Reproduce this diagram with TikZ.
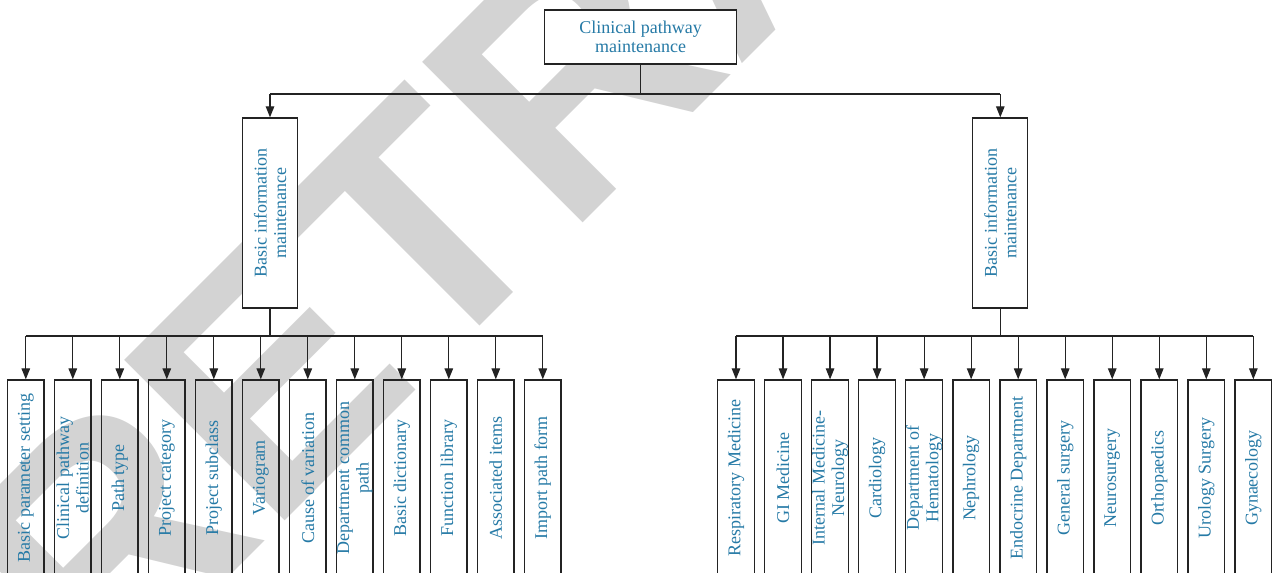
\documentclass[tikz,border=0pt]{standalone}
\usepackage{fontspec}
\setmainfont{Liberation Serif}
\newfontfamily\wmfont{Liberation Sans}
\usetikzlibrary{arrows.meta}
\definecolor{txt}{RGB}{38,122,166}
\definecolor{wmgray}{RGB}{211,211,211}
\definecolor{ln}{RGB}{35,35,35}
\tikzset{
  lbl/.style={text=txt, font=\fontsize{18}{19.5}\selectfont, align=center, inner sep=0pt},
  botbox/.style={lbl, draw=ln, line width=1.3pt, rotate=90, minimum width=196pt, minimum height=36.6pt},
  midbox/.style={lbl, draw=ln, line width=1.3pt, fill=white, rotate=90, minimum width=190pt, minimum height=55pt},
  topbox/.style={lbl, draw=ln, line width=1.3pt, fill=white, minimum width=192.4pt, minimum height=54pt},
  conn/.style={draw=ln, line width=1.2pt},
  arr/.style={conn, -{Triangle[length=11pt,width=8.5pt]}},
  wmark/.style={text=wmgray, font=\wmfont\bfseries\fontsize{330}{330}\selectfont, rotate=45, anchor=base west, inner sep=0pt}
}
\begin{document}
\begin{tikzpicture}[x=1pt,y=-1pt]
\useasboundingbox (0,0) rectangle (1272,573);
\clip (0,0) rectangle (1272,573);
% watermark
\node[wmark] (wm) at (101,705) {RETRACTED};
% top
\node[topbox] (top) at (640.5,37) {Clinical pathway\\maintenance};
\node[midbox] (ml) at (270,213) {Basic information\\maintenance};
\node[midbox] (mr) at (1000.3,213) {Basic information\\maintenance};
\coordinate (busT) at (0,94);
\coordinate (busL) at (0,336);
\coordinate (busR) at (0,336);
\draw[conn] (top.south) -- (top.south |- busT);
\draw[conn] (ml.east |- busT) -- (mr.east |- busT);
\draw[arr] (ml.east |- busT) -- (ml.east);
\draw[arr] (mr.east |- busT) -- (mr.east);
% left leaves
\foreach \t [count=\i] in {Basic parameter setting, {Clinical pathway\\definition}, Path type, Project category, Project subclass, Variogram, Cause of variation, {Department common\\path}, Basic dictionary, Function library, Associated items, Import path form}{
  \node[botbox] (l\i) at ({25.8+47*(\i-1)},478) {\t};
  \draw[arr] (l\i.east |- busL) -- (l\i.east);
}
\draw[conn] (l1.east |- busL) -- (l12.east |- busL);
\draw[conn] (ml.west) -- (ml.west |- busL);
% right leaves
\foreach \t [count=\i] in {Respiratory Medicine, GI Medicine, {Internal Medicine-\\Neurology}, Cardiology, {Department of\\Hematology}, Nephrology, Endocrine Department, General surgery, Neurosurgery, Orthopaedics, Urology Surgery, Gynaecology}{
  \node[botbox] (r\i) at ({736+47.03*(\i-1)},478) {\t};
  \draw[arr] (r\i.east |- busR) -- (r\i.east);
}
\draw[conn] (r1.east |- busR) -- (r12.east |- busR);
\draw[conn] (mr.west) -- (mr.west |- busR);
\end{tikzpicture}
\end{document}
